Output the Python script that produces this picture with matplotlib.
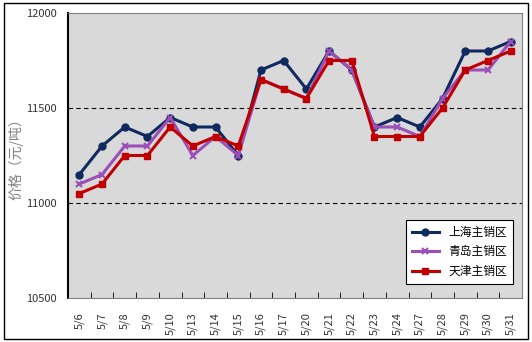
import matplotlib
matplotlib.use("Agg")
import matplotlib.pyplot as plt
from matplotlib.patches import Rectangle
import numpy as np

plt.rcParams['font.family'] = ['Noto Sans CJK SC', 'DejaVu Sans']

dates = ['5/6', '5/7', '5/8', '5/9', '5/10', '5/13', '5/14', '5/15', '5/16', '5/17',
         '5/20', '5/21', '5/22', '5/23', '5/24', '5/27', '5/28', '5/29', '5/30', '5/31']
shanghai = [11150, 11300, 11400, 11350, 11450, 11400, 11400, 11250, 11700, 11750,
            11600, 11800, 11700, 11400, 11450, 11400, 11550, 11800, 11800, 11850]
qingdao = [11100, 11150, 11300, 11300, 11450, 11250, 11350, 11250, 11650, 11600,
           11550, 11800, 11700, 11400, 11400, 11350, 11550, 11700, 11700, 11850]
tianjin = [11050, 11100, 11250, 11250, 11400, 11300, 11350, 11300, 11650, 11600,
           11550, 11750, 11750, 11350, 11350, 11350, 11500, 11700, 11750, 11800]

fig = plt.figure(figsize=(5.32, 3.42), dpi=100)
fig.patches.append(Rectangle((4 / 532, 3 / 342), 524 / 532, 336 / 342,
                             transform=fig.transFigure, fill=False,
                             edgecolor='black', linewidth=1.0))

ax = fig.add_axes([68 / 532, 44 / 342, 454 / 532, 285 / 342])
ax.set_facecolor('#d9d9d9')

x = np.arange(len(dates))
ax.plot(x, shanghai, color='#0f2a5e', lw=2.2, marker='o', ms=5, label='上海主销区', zorder=3)
ax.plot(x, qingdao, color='#9b4fb8', lw=2.2, marker='x', ms=5, mew=1.5, label='青岛主销区', zorder=4)
ax.plot(x, tianjin, color='#c00000', lw=2.2, marker='s', ms=5, label='天津主销区', zorder=5)

ax.set_xlim(-0.5, len(dates) - 0.5)
ax.set_ylim(10500, 12000)
ax.set_yticks([10500, 11000, 11500, 12000])
for yv in [11000, 11500]:
    ax.axhline(yv, color='black', lw=0.8, ls=(0, (4, 3)), zorder=1)

ax.set_xticks(x)
ax.set_xticklabels(dates, rotation=90, fontsize=8, color='#333333')
ax.set_xticks(np.arange(len(dates) + 1) - 0.5, minor=True)
ax.tick_params(axis='x', which='major', length=0, pad=10)
ax.tick_params(axis='x', which='minor', direction='in', length=4, color='black')
ax.tick_params(axis='y', length=0, labelsize=8, labelcolor='#333333', pad=8)

for s in ['top', 'right']:
    ax.spines[s].set_color('#808080')
ax.spines['left'].set_linewidth(1.5)
ax.spines['bottom'].set_color('#808080')

ax.set_ylabel('价格（元/吨）', fontsize=10, color='#808080', labelpad=2)

leg = ax.legend(loc='lower right', bbox_to_anchor=(0.993, 0.03), fontsize=8.5,
                fancybox=False, edgecolor='black', framealpha=1,
                handlelength=2.3, borderpad=0.5, labelspacing=0.55)
leg.get_frame().set_linewidth(0.8)

fig.savefig('out.png', dpi=100)
